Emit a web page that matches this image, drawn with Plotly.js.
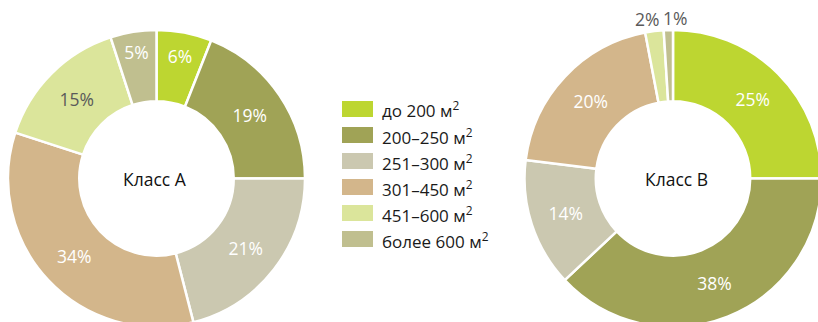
<!DOCTYPE html>
<html>
<head>
<meta charset="utf-8">
<script src="https://cdn.plot.ly/plotly-3.0.1.min.js"></script>
<style>
html,body{margin:0;padding:0;overflow:hidden;background:#fff;}
#chart{width:830px;height:330px;}
</style>
</head>
<body>
<div id="chart"></div>
<script>
const categories = ["до 200 м<sup>2</sup>", "200–250 м<sup>2</sup>", "251–300 м<sup>2</sup>", "301–450 м<sup>2</sup>", "451–600 м<sup>2</sup>", "более 600 м<sup>2</sup>"];
const classAValues = [6, 19, 21, 34, 15, 5];
const classBValues = [25, 38, 14, 20, 2, 1];
const classALabel = "Класс А";
const classBLabel = "Класс В";

const colors = ["#bdd631", "#a0a356", "#cbc8b0", "#d3b68b", "#dbe59b", "#c0bf8f"];
const textColorsA = ["#ffffff", "#ffffff", "#ffffff", "#ffffff", "#5a5a5a", "#ffffff"];
const textColorsB = ["#ffffff", "#ffffff", "#ffffff", "#ffffff", "#5a5a5a", "#5a5a5a"];

const W = 830, H = 330;
const FONT = "Open Sans, Noto Sans, sans-serif";

function px(x){ return x / W; }
function py(y){ return 1 - y / H; }

function pieTrace(values, textColors, cx, cy, r, positions){
  return {
    type: "pie",
    values: values,
    labels: categories,
    sort: false,
    direction: "clockwise",
    rotation: 0,
    hole: 0.52,
    texttemplate: "%{value}%",
    textinfo: "text",
    textposition: positions,
    insidetextorientation: "horizontal",
    textfont: {family: FONT, size: 17.5, color: textColors},
    marker: {colors: colors, line: {color: "#ffffff", width: 2.5}},
    domain: {x: [px(cx - r), px(cx + r)], y: [py(cy + r), py(cy - r)]},
    showlegend: false,
    hoverinfo: "none"
  };
}

const data = [
  pieTrace(classAValues, textColorsA, 156.5, 178.5, 148.5, "inside"),
  pieTrace(classBValues, textColorsB, 673, 178.5, 148.5, ["inside","inside","inside","inside","none","none"])
];

const shapes = [];
const annotations = [];
categories.forEach((c, i) => {
  const yc = 109 + 26 * i;
  shapes.push({type: "rect", xref: "paper", yref: "paper",
    x0: px(342), x1: px(373), y0: py(yc + 8), y1: py(yc - 8),
    fillcolor: colors[i], line: {width: 0}});
  annotations.push({xref: "paper", yref: "paper", x: px(380), y: py(yc + 1),
    xanchor: "left", yanchor: "middle", showarrow: false, text: c,
    font: {family: FONT, size: 17, color: "#1a1a1a"}});
});
annotations.push({xref: "paper", yref: "paper", x: px(155), y: py(179), xanchor: "center", yanchor: "middle",
  showarrow: false, text: classALabel, font: {family: FONT, size: 17.5, color: "#111"}});
annotations.push({xref: "paper", yref: "paper", x: px(676), y: py(179), xanchor: "center", yanchor: "middle",
  showarrow: false, text: classBLabel, font: {family: FONT, size: 17.5, color: "#111"}});
// outside labels for the two smallest slices of Класс В
const outsidePos = [[647, 19], [674.5, 18]];
[4, 5].forEach((idx, k) => {
  annotations.push({xref: "paper", yref: "paper", x: px(outsidePos[k][0]), y: py(outsidePos[k][1]),
    xanchor: "center", yanchor: "middle", showarrow: false, text: classBValues[idx] + "%",
    font: {family: FONT, size: 17.5, color: textColorsB[idx]}});
});

const layout = {
  width: W, height: H,
  margin: {l: 0, r: 0, t: 0, b: 0},
  paper_bgcolor: "#ffffff",
  showlegend: false,
  shapes: shapes,
  annotations: annotations
};

Plotly.newPlot("chart", data, layout, {staticPlot: true, displayModeBar: false});
</script>
</body>
</html>
